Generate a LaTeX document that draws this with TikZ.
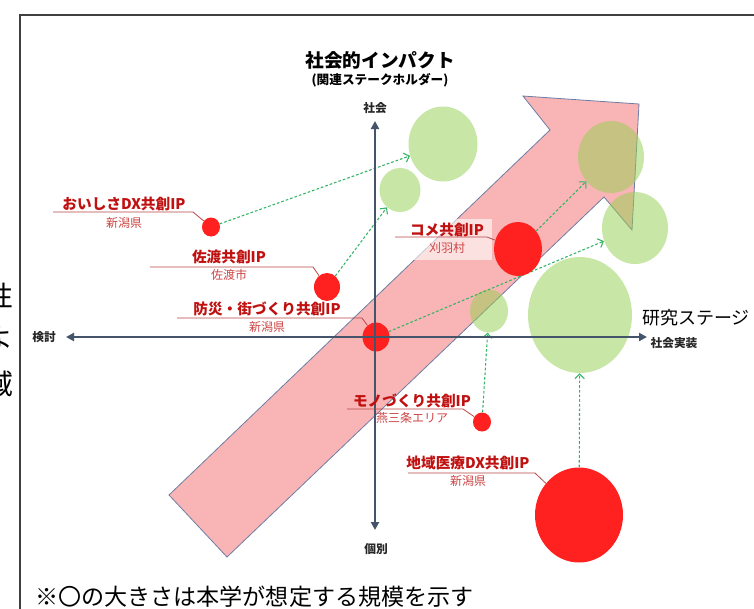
\documentclass[tikz,border=0pt]{standalone}
\usepackage{fontspec}
\setmainfont{Noto Sans CJK JP}
\usetikzlibrary{arrows.meta,shapes.geometric,positioning}
\definecolor{axisc}{RGB}{68,84,106}
\definecolor{pinkc}{RGB}{249,181,181}
\definecolor{edgec}{RGB}{110,125,165}
\definecolor{greenc}{RGB}{146,208,80}
\definecolor{redc}{RGB}{255,32,32}
\definecolor{linkc}{RGB}{50,180,100}
\definecolor{ttlc}{RGB}{192,16,16}
\definecolor{subc}{RGB}{205,70,70}
\definecolor{ulc}{RGB}{185,70,70}
\pgfdeclarelayer{bg}
\pgfdeclarelayer{mid}
\pgfsetlayers{bg,mid,main}
\tikzset{
  sz/.style 2 args={minimum width=#1*.75pt, minimum height=#2*.75pt},
  gbub/.style={ellipse, fill=greenc, fill opacity=.5, inner sep=0pt},
  rbub/.style={ellipse, fill=redc, inner sep=0pt},
  axis/.style={draw=axisc, line width=1.5pt,
    {Triangle[length=6pt,width=6pt]}-{Triangle[length=6pt,width=6pt]}},
  link/.style={draw=linkc, line width=.8pt, dash pattern=on 2pt off 1.5pt,
    -{Straight Barb[length=3.5pt,width=7pt]}},
  ttl/.style={text=ttlc, font=\bfseries\fontsize{11}{11}\selectfont, inner sep=0pt},
  sub/.style={text=subc, font=\fontsize{9}{9}\selectfont, inner sep=0pt},
  uline/.style={draw=ulc, line width=.6pt},
  axlbl/.style={font=\bfseries\fontsize{8.8}{8.8}\selectfont, text=black!85, inner sep=0pt},
  cut/.style={anchor=east, inner sep=0pt, font=\fontsize{21}{21}\selectfont}
}
\begin{document}
\begin{tikzpicture}[x=.75pt, y=-.75pt]
  \clip (0,0) rectangle (754,608);
  \begin{pgfonlayer}{bg}
    \fill[white] (0,0) rectangle (754,608);
    % big arrow
    \filldraw[fill=pinkc, draw=edgec, line width=.6pt]
      (169,495) -- (550,130) -- (523,96) -- (639,104) -- (632,230)
      -- (604,197) -- (227,557) -- cycle;
    % future positions
    \node[gbub, sz={69}{75}] (oishisaF) at (443,144) {};
    \node[gbub, sz={41}{44}] (sadoF) at (400,190) {};
    \node[gbub, sz={66}{72}] (komeF) at (611,157) {};
    \node[gbub, sz={66}{72}] (bousaiF) at (635,228) {};
    \node[gbub, sz={38}{43}] (monoF) at (489,311) {};
    \node[gbub, sz={104}{116}] (iryoF) at (580,315) {};
  \end{pgfonlayer}

  % frame and cut-off text at the left
  \draw[line width=1pt, black!75] (20,700) -- (20,15) -- (800,15);
  \node[cut] (cut1) at (14,296) {性};
  \node[cut] (cut2) at (14,338) {よ};
  \node[cut] (cut3) at (14,384) {域};

  % current positions
  \node[rbub, sz={18}{19}] (oishisa) at (211,227) {};
  \node[rbub, sz={26}{28}] (sado) at (327,287) {};
  \node[rbub, sz={27}{29}] (bousai) at (376,337) {};
  \node[rbub, sz={48}{54}] (kome) at (518,249) {};
  \node[rbub, sz={18}{19}] (mono) at (482,422) {};
  \node[rbub, sz={88}{95}] (iryo) at (579,515) {};

  \begin{pgfonlayer}{mid}
    \draw[link] (oishisa) -- (oishisaF);
    \draw[link] (sado) -- (sadoF);
    \draw[link] (bousai) -- (bousaiF);
    \draw[link] (kome) -- (komeF);
    \draw[link] (mono) -- (monoF);
    \draw[link] (iryo) -- (iryoF);
  \end{pgfonlayer}

  % axes
  \coordinate (ytop) at (375,121);
  \coordinate (ybot) at (375,530);
  \coordinate (xleft) at (66,337);
  \coordinate (xright) at (647,337);
  \draw[axis] (ybot) -- (ytop);
  \draw[axis] (xleft) -- (xright);
  \node[axlbl] (shakai) at (375,108) {社会};
  \node[axlbl] (kobetsu) at (376,549) {個別};
  \node[axlbl] (kentou) at (44,337) {検討};
  \node[inner sep=0pt, font=\fontsize{13.5}{13.5}\selectfont] (stage) at (696,318) {研究ステージ};
  \node[axlbl] (jissou) at (674,343) {社会実装};
  \node[inner sep=0pt, font=\bfseries\fontsize{14}{14}\selectfont] (impact) at (380,60) {社会的インパクト};
  \node[inner sep=0pt, font=\bfseries\fontsize{9.5}{9.5}\selectfont] (holder) at (380,80) {(関連ステークホルダー)};

  % labels
  \node[ttl] (oishisaT) at (124,204) {おいしさDX共創IP};
  \node[sub] (oishisaS) at (124,223) {新潟県};
  \draw[uline] (53,212) -- (193,212) -- (oishisa);

  \node[ttl] (sadoT) at (229,257) {佐渡共創IP};
  \node[sub] (sadoS) at (229,275) {佐渡市};
  \draw[uline] (150,267) -- (313,267) -- (sado);

  \node[ttl] (bousaiT) at (267,309) {防災・街づくり共創IP};
  \node[sub] (bousaiS) at (267,327) {新潟県};
  \draw[uline] (177,318) -- (362,318) -- (bousai);

  \fill[white, fill opacity=.6] (407,219) rectangle (492,260);
  \node[ttl] (komeT) at (447,230) {コメ共創IP};
  \node[sub] (komeS) at (447,248) {刈羽村};
  \draw[uline] (395,237) -- (487,237) -- (kome);

  \node[ttl] (monoT) at (412,401) {モノづくり共創IP};
  \node[sub] (monoS) at (412,418) {燕三条エリア};
  \draw[uline] (347,409) -- (463,409) -- (mono);

  \node[ttl] (iryoT) at (468,463) {地域医療DX共創IP};
  \node[sub] (iryoS) at (468,481) {新潟県};
  \draw[uline] (408,473) -- (535,473) -- (iryo);

  % note
  \node[anchor=west, inner sep=0pt, font=\fontsize{17.3}{17.3}\selectfont] (note) at (35,597)
    {※〇の大きさは本学が想定する規模を示す};
\end{tikzpicture}
\end{document}
